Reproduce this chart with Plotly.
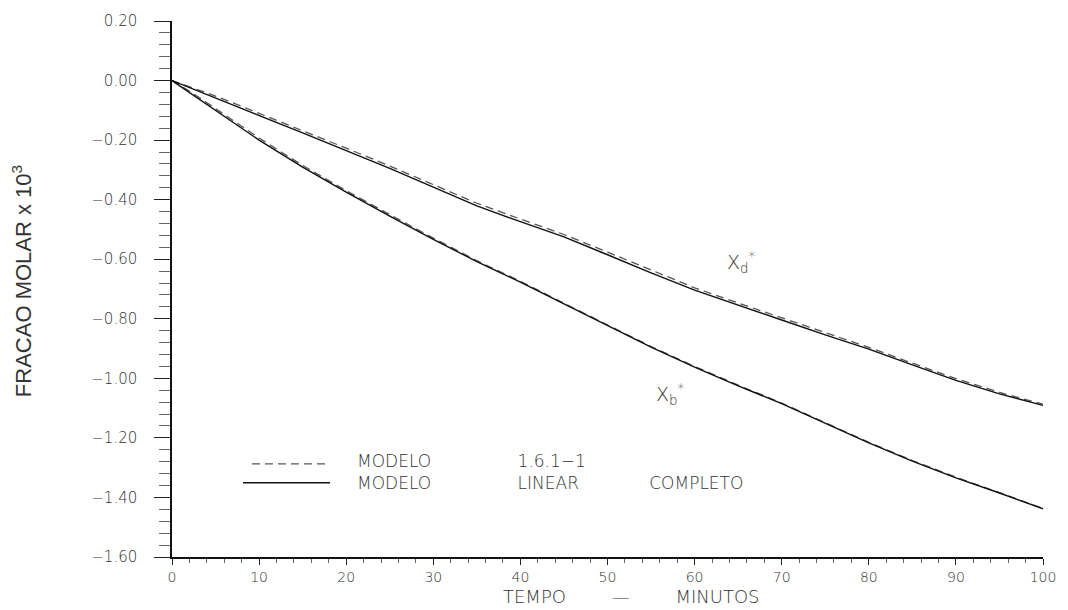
import plotly.graph_objects as go

# Tempo (minutos)
tempo = [0, 2.5, 5, 10, 15, 20, 25, 30, 35, 40, 45, 50, 55, 60, 65, 70, 75, 80, 85, 90, 95, 100]

# Xd* - modelo linear completo / modelo 1.6.1-1
xd_linear = [0.0, -0.029, -0.058, -0.117, -0.176, -0.235, -0.295, -0.358, -0.421, -0.474, -0.525,
             -0.585, -0.646, -0.704, -0.755, -0.804, -0.854, -0.902, -0.955, -1.007, -1.052, -1.091]
xd_modelo = [0.0, -0.025, -0.052, -0.110, -0.168, -0.227, -0.287, -0.349, -0.412, -0.465, -0.517,
             -0.576, -0.637, -0.696, -0.747, -0.797, -0.847, -0.896, -0.949, -1.001, -1.047, -1.087]

# Xb* - modelo linear completo / modelo 1.6.1-1
xb_linear = [0.0, -0.050, -0.100, -0.200, -0.291, -0.375, -0.455, -0.533, -0.608, -0.677, -0.750,
             -0.823, -0.895, -0.962, -1.025, -1.085, -1.150, -1.217, -1.278, -1.334, -1.385, -1.438]
xb_modelo = [0.0, -0.045, -0.094, -0.193, -0.285, -0.370, -0.450, -0.529, -0.605, -0.674, -0.748,
             -0.821, -0.893, -0.960, -1.023, -1.083, -1.148, -1.215, -1.276, -1.332, -1.384, -1.437]

y_ticks = [0.20, 0.00, -0.20, -0.40, -0.60, -0.80, -1.00, -1.20, -1.40, -1.60]
x_ticks = [0, 10, 20, 30, 40, 50, 60, 70, 80, 90, 100]

NB = "\u00a0"
INK = "#333333"
TICK_FONT = dict(family="DejaVu Sans", size=15, color=INK, weight=300)
XTICK_FONT = dict(family="DejaVu Sans", size=14, color=INK, weight=300)
TEXT_FONT = dict(family="DejaVu Sans", size=19, color=INK, weight=300)

dashed = dict(color="#555555", width=1.3, dash="8px,5px")
solid = dict(color="#111111", width=1.4)

fig = go.Figure()
for yv in (xd_modelo, xb_modelo):
    fig.add_trace(go.Scatter(x=tempo, y=yv, mode="lines", line=dashed,
                             showlegend=False, hoverinfo="skip"))
for yv in (xd_linear, xb_linear):
    fig.add_trace(go.Scatter(x=tempo, y=yv, mode="lines", line=solid,
                             showlegend=False, hoverinfo="skip"))

# Legend drawn as line samples with a two-line caption
fig.add_shape(type="line", xref="paper", yref="paper", x0=0.0918, x1=0.1814, y0=0.1738, y1=0.1738,
              line=dashed)
fig.add_shape(type="line", xref="paper", yref="paper", x0=0.0815, x1=0.1814, y0=0.1386, y1=0.1386,
              line=solid)
legend_text = ("MODELO" + NB * 16 + "1.6.1\u22121" + "<br>" +
               "MODELO" + NB * 16 + "LINEAR" + NB * 13 + "COMPLETO")
fig.add_annotation(xref="paper", yref="paper", x=0.2101, y=0.158, xanchor="left", yanchor="middle",
                   align="left", text=legend_text, showarrow=False,
                   font=dict(family="DejaVu Sans", size=17, color=INK, weight=300))

# Curve labels
fig.add_annotation(x=63.5, y=-0.61, xanchor="left", yanchor="middle",
                   text="X<sub>d</sub><sup>*</sup>", showarrow=False, font=TEXT_FONT)
fig.add_annotation(x=55.3, y=-1.055, xanchor="left", yanchor="middle",
                   text="X<sub>b</sub><sup>*</sup>", showarrow=False, font=TEXT_FONT)

# Axis titles
fig.add_annotation(xref="paper", yref="paper", x=0.527, y=-0.0739, xanchor="center", yanchor="middle",
                   text="TEMPO" + NB * 8 + "\u2014" + NB * 8 + "MINUTOS", showarrow=False,
                   font=dict(family="DejaVu Sans", size=18, color=INK, weight=300))
fig.add_annotation(xref="paper", yref="paper", x=-0.172, y=0.515, xanchor="center", yanchor="middle",
                   textangle=-90, text="FRACAO MOLAR x 10<sup>3</sup>", showarrow=False,
                   font=dict(family="Liberation Sans", size=22, color=INK))

fig.update_xaxes(range=[0, 100], tickvals=x_ticks, ticktext=[str(v) for v in x_ticks],
                 showline=True, linecolor="#111111", linewidth=1.5, showgrid=False, zeroline=False,
                 ticks="outside", ticklen=6, tickwidth=1.2, tickcolor="#222222",
                 minor=dict(dtick=2, ticks="outside", ticklen=4, tickwidth=1, tickcolor="#666666"),
                 tickfont=XTICK_FONT, ticklabelstandoff=0)
fig.update_yaxes(range=[-1.6, 0.2], tickvals=y_ticks, tickformat=".2f",
                 showline=True, linecolor="#111111", linewidth=1.5, showgrid=False, zeroline=False,
                 ticks="outside", ticklen=16, tickwidth=1.2, tickcolor="#222222",
                 minor=dict(tick0=0, dtick=0.04, ticks="outside", ticklen=11, tickwidth=1,
                            tickcolor="#666666"),
                 tickfont=TICK_FONT, ticklabelstandoff=14)

fig.update_layout(width=1068, height=610, margin=dict(l=172, r=25, t=16, b=53),
                  paper_bgcolor="white", plot_bgcolor="white", showlegend=False)

fig.write_html("out.html")
